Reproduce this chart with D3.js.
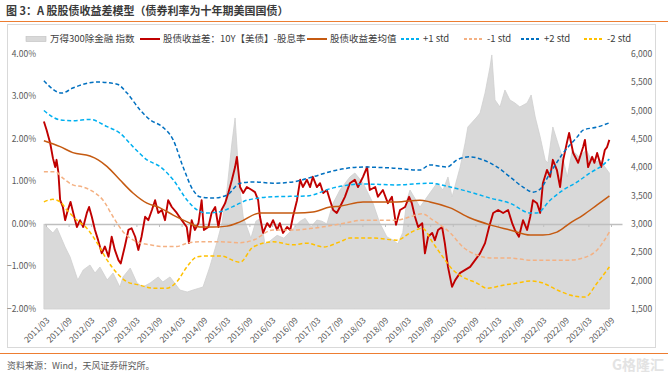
<!DOCTYPE html>
<html>
<head>
<meta charset="utf-8">
<script src="https://cdn.jsdelivr.net/npm/d3@7"></script>
<style>
  body { margin: 0; background: #fff; }
  svg { font-family: "Noto Sans CJK SC", "Noto Sans", sans-serif; }
</style>
</head>
<body>
<svg id="chart" width="668" height="377"></svg>
<script>
// x tick labels (half-yearly)
var xTickLabels = ["2011/03","2011/09","2012/03","2012/09","2013/03","2013/09","2014/03","2014/09",
  "2015/03","2015/09","2016/03","2016/09","2017/03","2017/09","2018/03","2018/09","2019/03","2019/09",
  "2020/03","2020/09","2021/03","2021/09","2022/03","2022/09","2023/03","2023/09"];
var leftTicks = [-2, -1, 0, 1, 2, 3, 4];
var rightTicks = [1500, 2000, 2500, 3000, 3500, 4000, 4500, 5000, 5500, 6000];

// series: [decimal year, value]
var indexSeries = [[2011.12,3000],[2011.32,2841],[2011.41,2929],[2011.59,2594],[2011.70,2418],[2011.87,2012],
  [2011.99,2188],[2012.14,2276],[2012.25,2135],[2012.36,2241],[2012.52,2012],[2012.65,2135],[2012.80,1888],
  [2012.87,2065],[2013.03,2223],[2013.18,1959],[2013.31,1888],[2013.47,1959],[2013.65,2065],[2013.75,1976],
  [2013.91,2065],[2014.13,1835],[2014.29,1800],[2014.42,1835],[2014.64,1888],[2014.79,2241],[2014.95,2682],
  [2015.06,3018],[2015.17,3600],[2015.28,4430],[2015.35,4871],[2015.42,4006],[2015.46,3600],[2015.53,3124],
  [2015.61,2947],[2015.70,2750],[2015.81,3050],[2015.92,3100],[2016.01,2650],[2016.12,2700],[2016.28,2800],
  [2016.43,2750],[2016.61,2900],[2016.79,3050],[2016.90,3100],[2017.03,2950],[2017.16,3070],[2017.27,3050],
  [2017.38,3000],[2017.52,3370],[2017.67,3600],[2017.89,3830],[2018.00,3900],[2018.18,3724],[2018.40,3370],
  [2018.55,3018],[2018.71,2771],[2018.84,2718],[2018.95,2650],[2019.06,2850],[2019.15,3420],[2019.22,3600],
  [2019.44,3300],[2019.66,3547],[2019.82,3724],[2019.95,3600],[2020.06,3830],[2020.15,3476],[2020.33,4006],
  [2020.44,4430],[2020.50,4712],[2020.70,4888],[2020.77,4959],[2020.88,5312],[2020.99,5771],[2021.03,5983],
  [2021.10,5189],[2021.21,5065],[2021.32,5365],[2021.43,5189],[2021.54,5136],[2021.65,5065],[2021.81,5136],
  [2021.90,5277],[2021.99,4888],[2022.10,4536],[2022.21,4130],[2022.27,4077],[2022.38,4712],[2022.49,4430],
  [2022.61,4130],[2022.70,3830],[2022.81,4306],[2022.96,4183],[2023.12,4306],[2023.27,4077],[2023.42,4130],
  [2023.58,3953],[2023.63,3900]];

var spreadSeries = [[2011.12,2.41],[2011.18,2.21],[2011.26,1.90],[2011.32,1.55],[2011.37,1.34],[2011.40,1.51],
  [2011.44,1.22],[2011.48,0.56],[2011.54,0.40],[2011.59,0.09],[2011.65,0.33],[2011.71,0.52],[2011.77,0.26],
  [2011.85,-0.07],[2011.92,0.09],[2011.99,-0.07],[2012.07,0.26],[2012.12,0.40],[2012.18,0.17],[2012.25,-0.14],
  [2012.32,-0.38],[2012.40,-0.69],[2012.47,-0.53],[2012.55,-0.77],[2012.62,-0.30],[2012.69,-0.61],[2012.77,-0.85],
  [2012.82,-0.93],[2012.91,-0.53],[2012.99,-0.14],[2013.06,-0.10],[2013.14,-0.30],[2013.21,-0.61],[2013.28,-0.30],
  [2013.36,0.17],[2013.43,0.09],[2013.51,0.33],[2013.58,0.56],[2013.65,0.26],[2013.73,0.33],[2013.80,0.09],
  [2013.87,0.56],[2013.95,0.40],[2014.06,0.26],[2014.17,0.09],[2014.28,-0.07],[2014.33,-0.45],[2014.39,0.09],
  [2014.46,-0.14],[2014.54,0.02],[2014.61,0.56],[2014.66,-0.14],[2014.76,-0.07],[2014.83,0.26],[2014.91,0.40],
  [2014.98,-0.07],[2015.05,0.33],[2015.13,0.49],[2015.20,0.73],[2015.28,1.04],[2015.35,1.34],[2015.39,1.58],
  [2015.46,0.87],[2015.53,0.73],[2015.61,0.87],[2015.72,0.80],[2015.79,0.75],[2015.86,0.56],[2015.90,0.17],
  [2015.97,-0.21],[2016.06,0.02],[2016.12,-0.07],[2016.19,0.09],[2016.28,-0.14],[2016.34,0.02],[2016.41,-0.21],
  [2016.50,-0.07],[2016.57,-0.14],[2016.63,0.17],[2016.72,0.56],[2016.79,1.04],[2016.85,0.87],[2016.94,1.04],
  [2017.01,0.87],[2017.07,1.11],[2017.16,0.87],[2017.23,0.96],[2017.30,0.73],[2017.38,0.80],[2017.45,0.56],
  [2017.52,0.33],[2017.60,0.26],[2017.67,0.40],[2017.78,0.64],[2017.89,0.96],[2018.00,1.04],[2018.07,0.87],
  [2018.18,1.11],[2018.27,1.34],[2018.33,0.80],[2018.45,0.87],[2018.51,0.64],[2018.62,0.80],[2018.73,0.49],
  [2018.82,0.64],[2018.91,-0.02],[2019.00,0.33],[2019.11,0.40],[2019.20,0.64],[2019.26,0.49],[2019.33,0.17],
  [2019.40,-0.07],[2019.49,0.02],[2019.55,-0.69],[2019.62,-0.30],[2019.71,-0.21],[2019.77,-0.38],[2019.84,-0.14],
  [2019.93,-0.07],[2019.99,-0.45],[2020.06,-1.01],[2020.15,-1.48],[2020.22,-1.32],[2020.33,-1.15],[2020.44,-1.08],
  [2020.55,-1.01],[2020.66,-0.85],[2020.77,-0.69],[2020.88,-0.45],[2020.97,-0.07],[2021.06,0.26],[2021.17,0.33],
  [2021.28,0.26],[2021.39,0.33],[2021.48,0.02],[2021.54,-0.14],[2021.63,-0.30],[2021.72,0.09],[2021.81,-0.14],
  [2021.88,0.17],[2021.94,0.56],[2022.03,0.49],[2022.10,0.26],[2022.16,0.96],[2022.25,1.27],[2022.32,1.11],
  [2022.38,1.51],[2022.47,1.27],[2022.54,0.87],[2022.61,1.51],[2022.69,1.91],[2022.74,2.14],[2022.83,1.67],
  [2022.94,1.44],[2023.05,1.81],[2023.09,1.98],[2023.16,1.34],[2023.25,1.58],[2023.30,1.44],[2023.36,1.67],
  [2023.45,1.34],[2023.53,1.74],[2023.58,1.81],[2023.63,1.98]];

var meanSeries = [[2011.12,1.96],[2011.48,1.82],[2011.76,1.68],[2012.14,1.60],[2012.32,1.51],[2012.52,1.35],
  [2012.80,1.04],[2013.09,0.73],[2013.40,0.49],[2013.69,0.38],[2013.98,0.21],[2014.29,0.05],[2014.57,-0.07],
  [2014.86,-0.07],[2015.17,-0.05],[2015.46,0.05],[2015.90,0.26],[2016.19,0.26],[2016.72,0.26],[2017.07,0.28],
  [2017.45,0.40],[2017.67,0.42],[2018.18,0.52],[2018.93,0.52],[2019.44,0.56],[2019.66,0.52],[2020.11,0.38],
  [2020.55,0.14],[2020.99,-0.02],[2021.43,-0.14],[2021.88,-0.26],[2022.16,-0.26],[2022.47,-0.19],[2022.76,0.02],
  [2023.05,0.21],[2023.36,0.45],[2023.63,0.66]];

var plus1Series = [[2011.12,2.67],[2011.48,2.45],[2011.76,2.43],[2012.14,2.46],[2012.52,2.29],[2012.80,2.14],
  [2013.09,1.82],[2013.40,1.51],[2013.69,1.35],[2013.98,1.04],[2014.29,0.56],[2014.51,0.33],[2014.73,0.26],
  [2015.02,0.29],[2015.30,0.41],[2015.46,0.49],[2015.61,0.56],[2016.19,0.64],[2016.94,0.66],[2017.52,0.85],
  [2018.18,0.94],[2018.93,0.92],[2019.66,0.96],[2020.11,0.87],[2020.55,0.75],[2020.99,0.61],[2021.43,0.49],
  [2021.88,0.26],[2022.03,0.26],[2022.32,0.56],[2022.61,0.80],[2022.92,0.99],[2023.20,1.20],[2023.49,1.39],
  [2023.63,1.53]];

var minus1Series = [[2011.12,1.23],[2011.37,1.23],[2011.54,1.08],[2011.76,0.92],[2011.99,0.87],[2012.21,0.76],
  [2012.43,0.56],[2012.65,0.17],[2012.87,-0.18],[2013.18,-0.42],[2013.47,-0.49],[2013.75,-0.53],[2014.06,-0.53],
  [2014.29,-0.45],[2014.57,-0.42],[2015.02,-0.42],[2015.46,-0.44],[2015.75,-0.38],[2016.19,-0.14],[2016.63,-0.14],
  [2017.07,-0.10],[2017.67,0.00],[2018.18,0.09],[2018.93,0.09],[2019.22,0.17],[2019.49,0.24],[2019.73,0.09],
  [2020.11,-0.21],[2020.39,-0.54],[2020.70,-0.73],[2020.99,-0.80],[2021.43,-0.80],[2021.88,-0.85],[2022.32,-0.85],
  [2022.76,-0.85],[2023.05,-0.80],[2023.36,-0.61],[2023.63,-0.19]];

var plus2Series = [[2011.12,3.37],[2011.52,3.08],[2011.76,3.20],[2012.30,3.34],[2012.74,3.29],[2012.96,3.08],
  [2013.25,2.68],[2013.47,2.45],[2013.75,2.28],[2013.98,1.98],[2014.20,1.34],[2014.42,0.80],[2014.57,0.64],
  [2014.86,0.61],[2015.17,0.68],[2015.46,0.96],[2015.75,0.99],[2016.19,0.96],[2016.63,0.99],[2017.07,1.11],
  [2017.52,1.25],[2018.18,1.34],[2018.78,1.32],[2019.44,1.27],[2019.66,1.39],[2020.04,1.34],[2020.26,1.51],
  [2020.55,1.58],[2020.83,1.51],[2021.15,1.34],[2021.43,1.11],[2021.72,0.87],[2021.94,0.75],[2022.10,0.82],
  [2022.32,1.20],[2022.61,1.67],[2022.92,2.05],[2023.05,2.21],[2023.36,2.28],[2023.63,2.38]];

var minus2Series = [[2011.12,0.52],[2011.32,0.58],[2011.48,0.52],[2011.63,0.33],[2011.85,0.09],[2012.07,-0.10],
  [2012.30,-0.45],[2012.52,-0.85],[2012.74,-1.16],[2012.96,-1.36],[2013.25,-1.44],[2013.53,-1.51],[2013.84,-1.51],
  [2014.06,-1.36],[2014.29,-1.00],[2014.51,-0.77],[2014.73,-0.75],[2015.02,-0.75],[2015.46,-0.90],[2015.75,-0.54],
  [2016.19,-0.42],[2016.63,-0.49],[2016.94,-0.45],[2017.30,-0.54],[2017.67,-0.42],[2017.89,-0.33],[2018.40,-0.33],
  [2018.93,-0.38],[2019.22,-0.21],[2019.49,-0.10],[2019.73,-0.45],[2019.95,-0.78],[2020.17,-1.08],[2020.39,-1.25],
  [2020.70,-1.39],[2020.92,-1.51],[2021.28,-1.44],[2021.59,-1.39],[2021.88,-1.34],[2022.16,-1.39],[2022.47,-1.55],
  [2022.76,-1.67],[2023.09,-1.72],[2023.36,-1.39],[2023.63,-1.01]];

var legendNames = ["万得300除金融 指数", "股债收益差：10Y【美债】-股息率", "股债收益差均值", "+1 std", "-1 std", "+2 std", "-2 std"];

var svg = d3.select("#chart");
var plot = { left: 44, right: 622, top: 54, bottom: 309 };

// frame, title and source
svg.append("rect").attr("x", 7.5).attr("y", 24.5).attr("width", 648).attr("height", 323)
  .attr("fill", "none").attr("stroke", "#d9d9d9");
svg.append("text").attr("x", 6).attr("y", 15).attr("font-size", 11).attr("font-weight", "bold")
  .attr("fill", "#3a3a3a").text("图 3：A 股股债收益差模型（债券利率为十年期美国国债）");
svg.append("line").attr("x1", 0).attr("x2", 668).attr("y1", 21.5).attr("y2", 21.5)
  .attr("stroke", "#ed7d31").attr("stroke-width", 1);
svg.append("line").attr("x1", 0).attr("x2", 668).attr("y1", 353.5).attr("y2", 353.5)
  .attr("stroke", "#ed7d31").attr("stroke-width", 1);
svg.append("text").attr("x", 7).attr("y", 369).attr("font-size", 9).attr("fill", "#595959")
  .text("资料来源：Wind，天风证券研究所。");
svg.append("text").attr("x", 612).attr("y", 370).attr("font-size", 14).attr("font-weight", "bold")
  .attr("fill", "#e3e3e3").text("G格隆汇");

// scales
function tickYear(s) { var p = s.split("/"); return +p[0] + (+p[1] - 1) / 12; }
var tickVals = xTickLabels.map(tickYear);
var x = d3.scaleLinear().domain([tickVals[0], tickVals[tickVals.length - 1]]).range([46, 611]);
x.domain([x.invert(plot.left), x.invert(plot.right)]).range([plot.left, plot.right]);
var yL = d3.scaleLinear().domain([-2, 4]).range([plot.bottom, plot.top]);
var yR = d3.scaleLinear().domain([1500, 6000]).range([plot.bottom, plot.top]);

// index area (right axis)
var area = d3.area().x(function (d) { return x(d[0]); })
  .y0(plot.bottom).y1(function (d) { return yR(d[1]); });
svg.append("path").datum(indexSeries).attr("d", area)
  .attr("fill", "#d9d9d9").attr("stroke", "#cfcfcf").attr("stroke-width", 0.8);

// category axis along zero
var xAxis = svg.append("g").attr("transform", "translate(0," + yL(0) + ")")
  .call(d3.axisBottom(x).tickValues(tickVals).tickSize(3).tickSizeOuter(0).tickFormat(""));
xAxis.select(".domain").attr("stroke", "#bfbfbf").attr("stroke-width", 1.5);
xAxis.selectAll(".tick line").attr("stroke", "#bfbfbf");

// x labels at low position
svg.append("g").selectAll("text").data(xTickLabels).enter().append("text")
  .attr("text-anchor", "end").attr("font-size", 8.5).attr("fill", "#595959")
  .attr("transform", function (d) { return "translate(" + (x(tickYear(d)) + 4) + "," + (plot.bottom + 12) + ") rotate(-45)"; })
  .text(function (d) { return d; });

// left axis
svg.append("g").selectAll("text").data(leftTicks).enter().append("text")
  .attr("x", 36).attr("y", function (d) { return yL(d); }).attr("dy", "0.35em")
  .attr("text-anchor", "end").attr("font-size", 8.5).attr("fill", "#595959")
  .text(function (d) { return d3.format(".2f")(d) + "%"; });

// right axis
svg.append("g").selectAll("text").data(rightTicks).enter().append("text")
  .attr("x", 631).attr("y", function (d) { return yR(d); }).attr("dy", "0.35em")
  .attr("font-size", 8.5).attr("fill", "#595959")
  .text(function (d) { return d3.format(",")(d); });

// lines
var lineL = d3.line().x(function (d) { return x(d[0]); }).y(function (d) { return yL(d[1]); });
var smoothL = d3.line().curve(d3.curveMonotoneX)
  .x(function (d) { return x(d[0]); }).y(function (d) { return yL(d[1]); });

svg.append("path").datum(spreadSeries).attr("d", lineL)
  .attr("fill", "none").attr("stroke", "#c00000").attr("stroke-width", 1.9).attr("stroke-linejoin", "round");
svg.append("path").datum(meanSeries).attr("d", smoothL)
  .attr("fill", "none").attr("stroke", "#c55a11").attr("stroke-width", 1.5);

var bands = [
  { data: plus1Series, color: "#00b0f0" },
  { data: minus1Series, color: "#f4b183" },
  { data: plus2Series, color: "#0070c0" },
  { data: minus2Series, color: "#ffc000" }
];
bands.forEach(function (b) {
  svg.append("path").datum(b.data).attr("d", smoothL)
    .attr("fill", "none").attr("stroke", b.color).attr("stroke-width", 1.5)
    .attr("stroke-dasharray", "4,2.5");
});

// legend
var legendY = 39;
var lg = svg.append("g").attr("font-size", 9.5).attr("fill", "#404040");
lg.append("rect").attr("x", 26).attr("y", legendY - 2.5).attr("width", 20).attr("height", 5)
  .attr("fill", "#d9d9d9").attr("stroke", "#bfbfbf").attr("stroke-width", 0.6);
lg.append("text").attr("x", 50).attr("y", legendY).attr("dy", "0.35em").text(legendNames[0]);

var legendItems = [
  { x: 140, color: "#c00000", dash: null, tx: 163 },
  { x: 307, color: "#c55a11", dash: null, tx: 330 },
  { x: 401, color: "#00b0f0", dash: "3,2", tx: 423 },
  { x: 464, color: "#f4b183", dash: "3,2", tx: 487 },
  { x: 521, color: "#0070c0", dash: "3,2", tx: 544 },
  { x: 584, color: "#ffc000", dash: "3,2", tx: 607 }
];
legendItems.forEach(function (it, i) {
  lg.append("line").attr("x1", it.x).attr("x2", it.x + 20).attr("y1", legendY).attr("y2", legendY)
    .attr("stroke", it.color).attr("stroke-width", 2).attr("stroke-dasharray", it.dash);
  lg.append("text").attr("x", it.tx).attr("y", legendY).attr("dy", "0.35em").text(legendNames[i + 1]);
});
</script>
</body>
</html>
